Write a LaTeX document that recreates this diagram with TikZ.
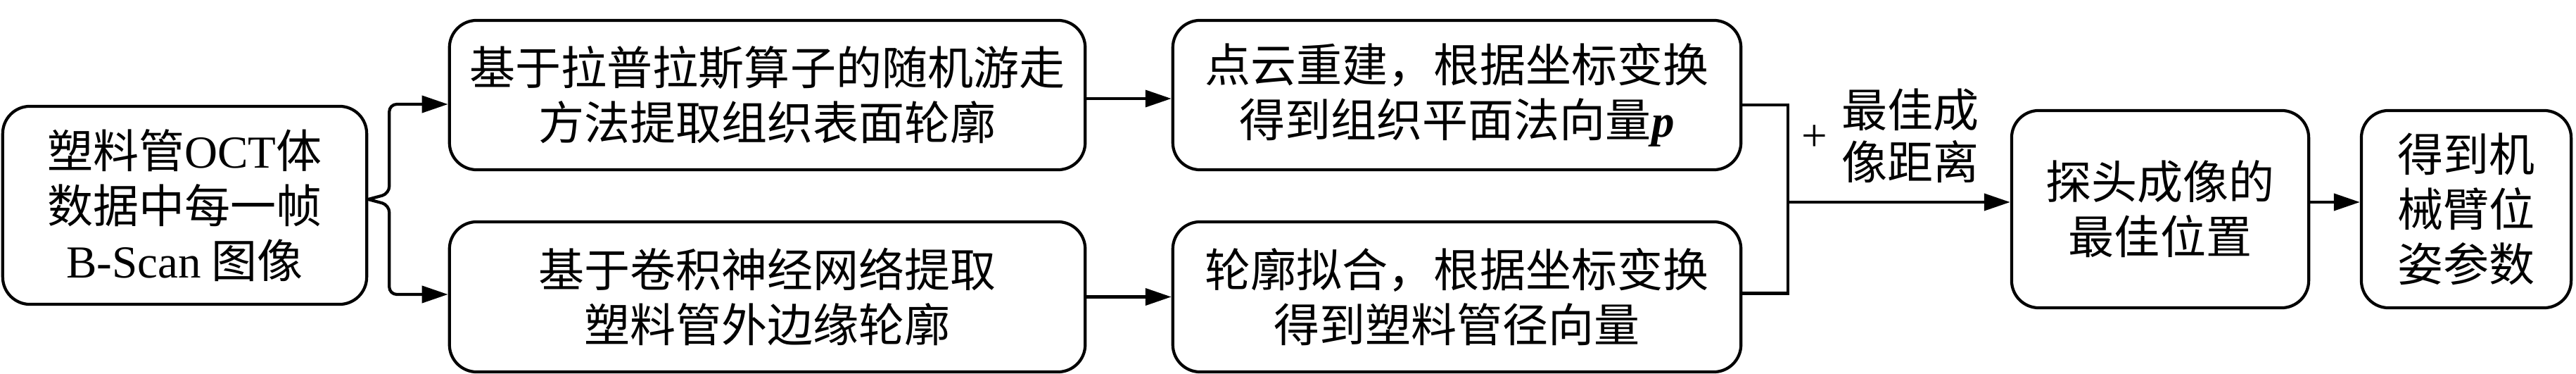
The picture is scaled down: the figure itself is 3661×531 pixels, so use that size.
\documentclass[tikz,border=0pt]{standalone}
\usepackage{fontspec}
\setmainfont{Noto Sans CJK SC}
\newfontfamily\lat{Liberation Serif}
\usetikzlibrary{arrows.meta,calc}
\begin{document}
\begin{tikzpicture}[x=0.01cm,y=-0.01cm,
  box/.style={draw,line width=1.2pt,rounded corners=11pt,align=center,inner sep=0pt,
    font=\fontsize{18.5}{22.2}\selectfont},
  lbl/.style={align=center,inner sep=0pt,font=\fontsize{18.5}{21}\selectfont},
  ln/.style={line width=1.2pt},
  arr/.style={line width=1.2pt,-{Triangle[length=10.5pt,width=6.8pt]}}]
\useasboundingbox (0,0) rectangle (3661,531);

\node[box,minimum width=51.7mm,minimum height=28.1mm] (b1) at (262.5,291.5)
  {塑料管{\lat OCT}体\\数据中每一帧\\{\lat B-Scan} 图像};
\node[box,minimum width=90.3mm,minimum height=21.2mm] (b2t) at (1090.5,135)
  {基于拉普拉斯算子的随机游走\\方法提取组织表面轮廓};
\node[box,minimum width=90.3mm,minimum height=21.3mm] (b2b) at (1090.5,421.5)
  {基于卷积神经网络提取\\塑料管外边缘轮廓};
\node[box,minimum width=80.7mm,minimum height=21.2mm] (b3t) at (2070.5,135)
  {点云重建，根据坐标变换\\得到组织平面法向量{\lat\bfseries\itshape p}};
\node[box,minimum width=80.7mm,minimum height=21.3mm] (b3b) at (2070.5,421.5)
  {轮廓拟合，根据坐标变换\\得到塑料管径向量};
\node[box,minimum width=42.2mm,minimum height=28mm] (b4) at (3070,297)
  {探头成像的\\最佳位置};
\node[box,minimum width=29.8mm,minimum height=28mm] (b5) at (3505,297)
  {得到机\\械臂位\\姿参数};

\node[lbl] (plus) at (2579,196) {\lat +};
\node[lbl] (dist) at (2715,193) {最佳成\\像距离};

% fork
\draw[arr,rounded corners=3pt] ($(b1.east)+(0,-8.5)$) -- ++(30,-8) |- ($(b2t.west)+(0,13)$);
\draw[arr,rounded corners=3pt] ($(b1.east)+(0,-8.5)$) -- ++(30,8) |- ($(b2b.west)+(0,-3.5)$);

% middle arrows
\draw[arr] ($(b2t.east)+(0,5)$) -- ($(b3t.west)+(0,5)$);
\draw[arr] (b2b.east) -- (b3b.west);

% merge
\coordinate (m) at (2541,287);
\draw[ln] ($(b3t.east)+(0,14)$) -| (m);
\draw[ln] ($(b3b.east)+(0,-5)$) -| (m);
\draw[arr] (m) -- (m -| b4.west);

\draw[arr] ($(b4.east)+(0,-10)$) -- ($(b5.west)+(0,-10)$);
\end{tikzpicture}
\end{document}
